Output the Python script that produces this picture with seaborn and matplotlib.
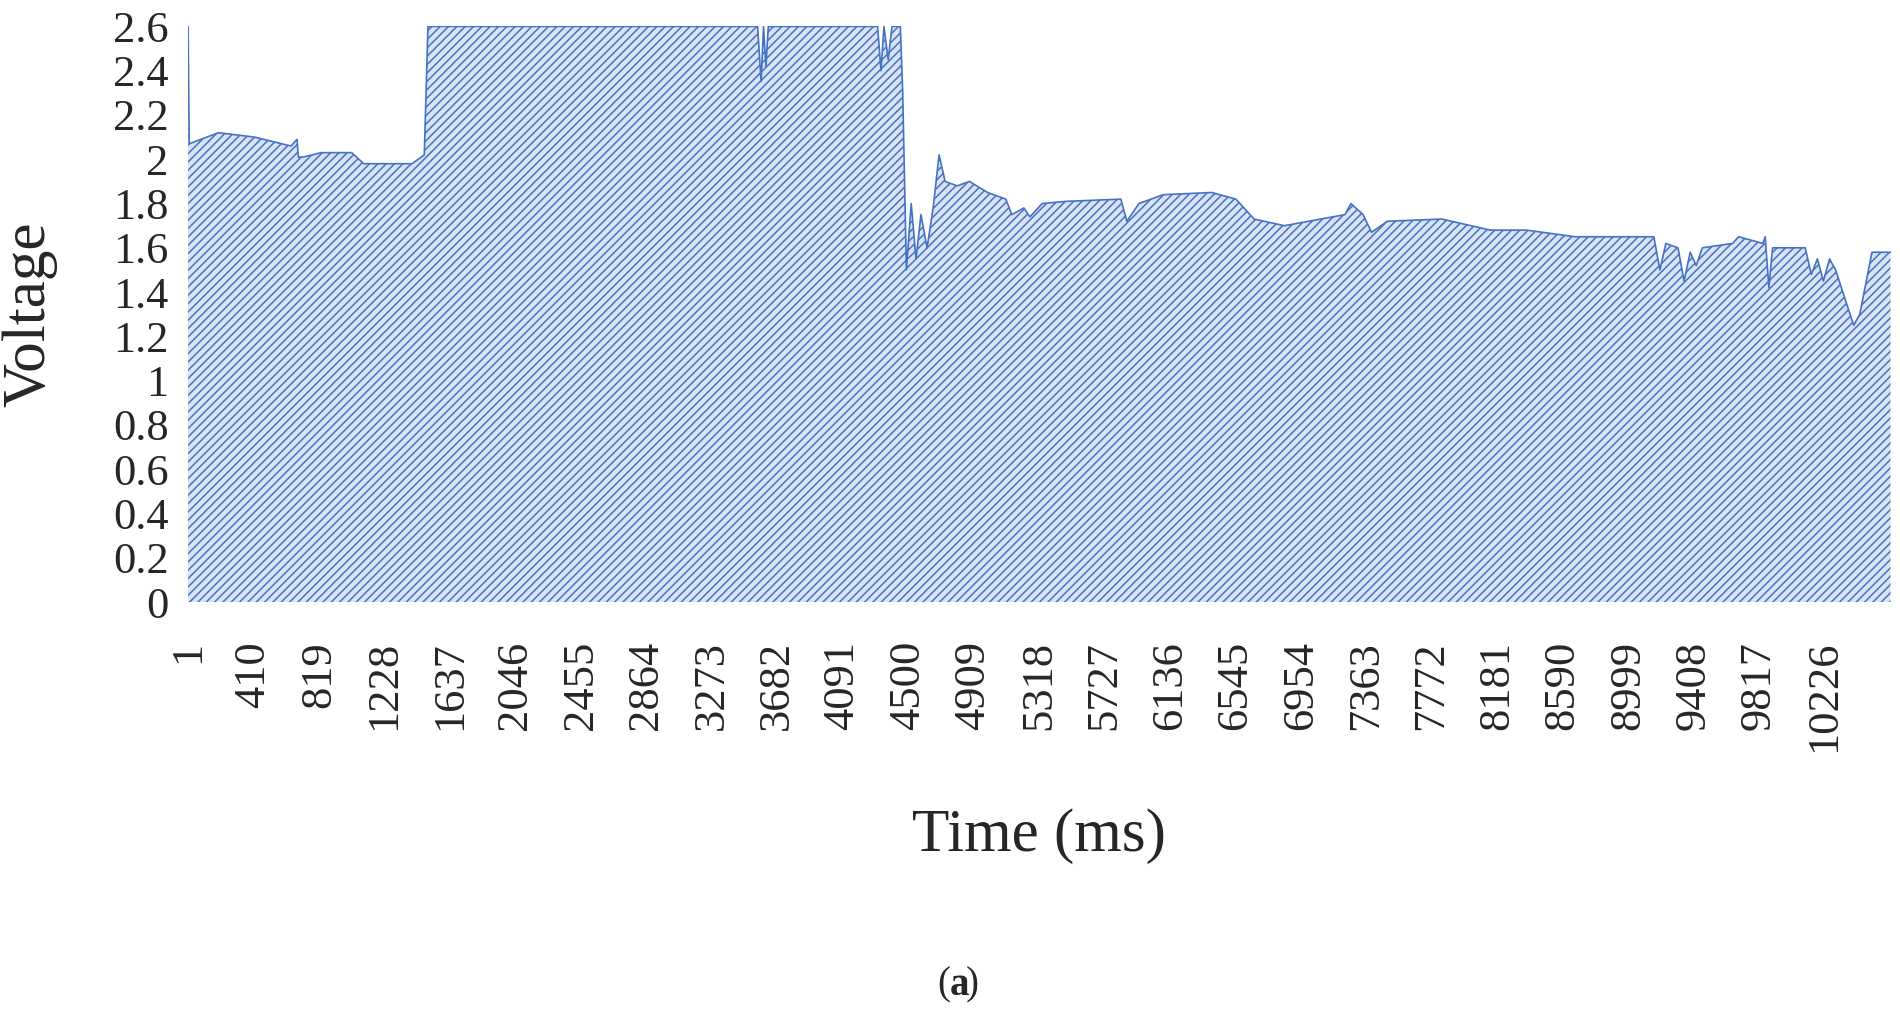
import numpy as np
import pandas as pd
import seaborn as sns
import matplotlib.pyplot as plt

# 读图估计的关键点（时间 ms, 电压 V）
times = [1, 8, 190, 417, 644, 682, 690, 720, 834, 1023, 1099, 1401, 1477, 1500,
         3560, 3582, 3597, 3612, 3627, 4310, 4331, 4350, 4376, 4400, 4452, 4467, 4490, 4520, 4550, 4581,
         4619, 4657, 4694, 4732, 4808, 4884, 4997, 5111, 5149, 5224, 5262,
         5338, 5489, 5830, 5868, 5943, 6095, 6398, 6549, 6663, 6852, 7231,
         7268, 7344, 7397, 7495, 7836, 8139, 8366, 8669, 9161, 9199, 9236,
         9312, 9350, 9388, 9426, 9464, 9653, 9691, 9842, 9857, 9880, 9903,
         10107, 10145, 10183, 10221, 10259, 10297, 10410, 10448, 10524, 10640]
volts = [2.6, 2.07, 2.12, 2.10, 2.06, 2.09, 2.01, 2.01, 2.03, 2.03, 1.98, 1.98, 2.02, 2.6,
         2.6, 2.35, 2.6, 2.42, 2.6, 2.6, 2.4, 2.6, 2.45, 2.6, 2.6, 2.3, 1.5, 1.8, 1.55, 1.75,
         1.6, 1.78, 2.02, 1.9, 1.88, 1.9, 1.85, 1.82, 1.75, 1.78, 1.74,
         1.8, 1.81, 1.82, 1.72, 1.8, 1.84, 1.85, 1.82, 1.73, 1.70, 1.75,
         1.80, 1.75, 1.67, 1.72, 1.73, 1.68, 1.68, 1.65, 1.65, 1.5, 1.62,
         1.6, 1.45, 1.58, 1.52, 1.6, 1.62, 1.65, 1.62, 1.65, 1.42, 1.6,
         1.6, 1.48, 1.55, 1.45, 1.55, 1.5, 1.25, 1.3, 1.58, 1.58]

tick_pos = list(range(1, 10227, 409))
y_ticks = [0, 0.2, 0.4, 0.6, 0.8, 1, 1.2, 1.4, 1.6, 1.8, 2, 2.2, 2.4, 2.6]

df = pd.DataFrame({'Time': times, 'Voltage': volts})

sns.set_style('white')
plt.rcParams['font.family'] = ['Liberation Serif', 'DejaVu Serif']
plt.rcParams['hatch.color'] = '#4472c4'
plt.rcParams['hatch.linewidth'] = 1.1

fig = plt.figure(figsize=(19, 10.17), dpi=100)
ax = fig.add_axes([0.099, 0.408, 0.896, 0.566])

ax.fill_between(df['Time'], 0, df['Voltage'], facecolor='#dae3f3',
                edgecolor='#4472c4', hatch='////', linewidth=0)
sns.lineplot(data=df, x='Time', y='Voltage', ax=ax, color='#4472c4', linewidth=1.2)

ax.set_xlim(1, 10640)
ax.set_ylim(0, 2.6)
ax.set_xticks(tick_pos)
ax.set_xticklabels([str(t) for t in tick_pos], rotation=90, fontsize=32)
ax.set_yticks(y_ticks)
ax.set_yticklabels([('%g' % v) for v in y_ticks], fontsize=32)
ax.tick_params(axis='x', length=0, pad=28)
ax.tick_params(axis='y', length=0, pad=14)
for s in ax.spines.values():
    s.set_visible(False)
ax.set_xlabel('Time (ms)', fontsize=44, labelpad=40)
ax.set_ylabel('Voltage', fontsize=44, labelpad=40)

fig.text(0.5, 0.022, '(', fontsize=28, ha='right')
fig.text(0.5, 0.022, 'a', fontsize=28, ha='left', fontweight='bold')
fig.text(0.5085, 0.022, ')', fontsize=28, ha='left')

fig.savefig('out.png', dpi=100)
